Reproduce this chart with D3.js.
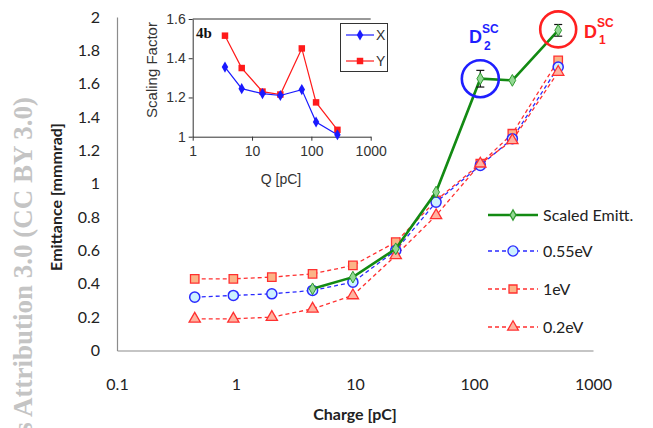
<!DOCTYPE html>
<html>
<head>
<meta charset="utf-8">
<script src="https://cdn.jsdelivr.net/npm/d3@7"></script>
<style>
  body { margin: 0; background: #fff; }
  svg { display: block; }
</style>
</head>
<body>
<div id="chart"></div>
<script>
// ---- main chart data ----
var charge    = [0.45, 0.95, 2, 4.4, 9.6, 22, 48, 113, 210, 510];
var emit055   = [0.32, 0.33, 0.34, 0.36, 0.41, 0.60, 0.89, 1.11, 1.27, 1.70];
var emit1     = [0.43, 0.43, 0.44, 0.46, 0.51, 0.65, 0.90, 1.12, 1.30, 1.74];
var emit02    = [0.19, 0.19, 0.20, 0.25, 0.33, 0.57, 0.81, 1.12, 1.26, 1.67];
var scaled    = [null, null, null, 0.37, 0.44, 0.61, 0.95, 1.63, 1.62, 1.92];
var scaledErr = [0, 0, 0, 0, 0, 0, 0, 0.05, 0, 0.035];
var xTicks = [0.1, 1, 10, 100, 1000];
var yTicks = [0, 0.2, 0.4, 0.6, 0.8, 1, 1.2, 1.4, 1.6, 1.8, 2];
var legendNames = ["Scaled Emitt.", "0.55eV", "1eV", "0.2eV"];

// ---- inset data (4b) ----
var insetQ  = [3.5, 6.7, 15, 30, 69, 120, 275];
var insetX  = [1.355, 1.245, 1.22, 1.21, 1.24, 1.075, 1.01];
var insetY  = [1.515, 1.35, 1.23, 1.215, 1.45, 1.175, 1.035];
var insetXTicks = [1, 10, 100, 1000];
var insetYTicks = [1, 1.2, 1.4, 1.6];

var W = 653, H = 428;
var svg = d3.select("#chart").append("svg")
  .attr("width", W)
  .attr("height", H);

svg.append("rect").attr("width", W).attr("height", H).attr("fill", "#fff");

var mainFont = "Lato, 'Open Sans', sans-serif";

// watermark
svg.append("text")
  .attr("transform", "translate(32,97) rotate(-90)")
  .attr("text-anchor", "end")
  .attr("font-family", "'Liberation Serif', 'DejaVu Serif', serif")
  .attr("font-weight", "bold")
  .attr("font-size", "27px")
  .attr("fill", "#c4c4c4")
  .text("s Attribution 3.0 (CC BY 3.0)");

// scales
var x = d3.scaleLog().domain([0.1, 1000]).range([117, 593]);
var y = d3.scaleLinear().domain([0, 2]).range([350.5, 17]);

var xAxis = svg.append("g")
  .attr("transform", "translate(0,350.5)")
  .call(d3.axisBottom(x).tickValues(xTicks).tickSize(0).tickSizeOuter(0).tickPadding(28)
    .tickFormat(function(d) { return String(d); }));
var yAxis = svg.append("g")
  .attr("transform", "translate(117,0)")
  .call(d3.axisLeft(y).tickValues(yTicks).tickSize(0).tickSizeOuter(0).tickPadding(17)
    .tickFormat(function(d) { return String(d); }));

[xAxis, yAxis].forEach(function(g) {
  g.select(".domain").attr("stroke", "#8c8c8c").attr("stroke-width", 1.2);
  g.selectAll("text")
    .attr("font-family", mainFont)
    .attr("font-size", "16px")
    .attr("fill", "#222");
});

// axis titles
svg.append("text")
  .attr("x", 355).attr("y", 420)
  .attr("text-anchor", "middle")
  .attr("font-family", mainFont)
  .attr("font-weight", "bold")
  .attr("font-size", "16px")
  .attr("fill", "#222")
  .text("Charge [pC]");

svg.append("text")
  .attr("transform", "translate(62,197) rotate(-90)")
  .attr("text-anchor", "middle")
  .attr("font-family", mainFont)
  .attr("font-weight", "bold")
  .attr("font-size", "16px")
  .attr("fill", "#222")
  .text("Emittance  [mmmrad]");

// series styles
var series = [
  { values: emit1,   stroke: "#ff3030", dash: "4,3", sym: d3.symbolSquare,   size: 72, fill: "#fbb487", sw: 1.3 },
  { values: emit055, stroke: "#2a2aff", dash: "4,3", sym: d3.symbolCircle,   size: 80, fill: "#cdf1ff", sw: 1.5 },
  { values: emit02,  stroke: "#ff3030", dash: "4,3", sym: d3.symbolTriangle, size: 55, fill: "#ffb3a0", sw: 1.3 }
];

var line = d3.line()
  .defined(function(d) { return d[1] != null; })
  .x(function(d) { return x(d[0]); })
  .y(function(d) { return y(d[1]); });

series.forEach(function(s) {
  var pts = charge.map(function(c, i) { return [c, s.values[i]]; });
  svg.append("path")
    .attr("d", line(pts))
    .attr("fill", "none")
    .attr("stroke", s.stroke)
    .attr("stroke-width", 1.3)
    .attr("stroke-dasharray", s.dash);
});
series.forEach(function(s) {
  var pts = charge.map(function(c, i) { return [c, s.values[i]]; });
  svg.append("g").selectAll("path")
    .data(pts)
    .enter()
    .append("path")
    .attr("transform", function(d) { return "translate(" + x(d[0]) + "," + y(d[1]) + ")"; })
    .attr("d", d3.symbol().type(s.sym).size(s.size))
    .attr("fill", s.fill)
    .attr("stroke", s.stroke)
    .attr("stroke-width", s.sw);
});

// scaled emittance (green)
var green = "#138a13";
var scaledPts = charge.map(function(c, i) { return [c, scaled[i], scaledErr[i]]; })
  .filter(function(d) { return d[1] != null; });

svg.append("path")
  .attr("d", line(scaledPts))
  .attr("fill", "none")
  .attr("stroke", green)
  .attr("stroke-width", 2.6);

// error bars
var errPts = scaledPts.filter(function(d) { return d[2] > 0; });
var eb = svg.append("g").attr("stroke", "#111").attr("stroke-width", 1.2);
errPts.forEach(function(d) {
  var cx = x(d[0]);
  eb.append("line").attr("x1", cx).attr("x2", cx).attr("y1", y(d[1] - d[2])).attr("y2", y(d[1] + d[2]));
  eb.append("line").attr("x1", cx - 4).attr("x2", cx + 4).attr("y1", y(d[1] - d[2])).attr("y2", y(d[1] - d[2]));
  eb.append("line").attr("x1", cx - 4).attr("x2", cx + 4).attr("y1", y(d[1] + d[2])).attr("y2", y(d[1] + d[2]));
});

svg.append("g").selectAll("path")
  .data(scaledPts)
  .enter()
  .append("path")
  .attr("transform", function(d) { return "translate(" + x(d[0]) + "," + y(d[1]) + ")"; })
  .attr("d", d3.symbol().type(d3.symbolDiamond).size(40))
  .attr("fill", "#93d893")
  .attr("stroke", "#2f9a2f")
  .attr("stroke-width", 1);

// annotations D2SC and D1SC
svg.append("circle")
  .attr("cx", x(charge[7])).attr("cy", y(scaled[7]))
  .attr("r", 18.5)
  .attr("fill", "none").attr("stroke", "#1f1fff").attr("stroke-width", 2.6);
svg.append("circle")
  .attr("cx", x(charge[9])).attr("cy", y(scaled[9]) - 1)
  .attr("r", 18)
  .attr("fill", "none").attr("stroke", "#ff2020").attr("stroke-width", 2.6);

function dLabel(px, py, supY, subY, sub, color) {
  var g = svg.append("g")
    .attr("font-family", "'Liberation Sans', Arial, sans-serif")
    .attr("font-weight", "bold")
    .attr("fill", color);
  g.append("text").attr("x", px).attr("y", py).attr("font-size", "18px").text("D");
  g.append("text").attr("x", px + 13).attr("y", supY).attr("font-size", "12px").text("SC");
  g.append("text").attr("x", px + 15).attr("y", subY).attr("font-size", "12px").text(sub);
}
dLabel(469, 43, 33, 50, "2", "#1f1fff");
dLabel(584, 38, 27, 44, "1", "#ff2020");

// main legend
var legend = svg.append("g").attr("transform", "translate(488,0)");
var legRows = [
  { y: 215, stroke: green, dash: null, sw: 2.6, sym: d3.symbolDiamond, size: 30, fill: "#93d893", ms: "#2f9a2f" },
  { y: 251, stroke: "#2a2aff", dash: "4,3", sw: 1.3, sym: d3.symbolCircle, size: 80, fill: "#cdf1ff", ms: "#2a2aff" },
  { y: 289, stroke: "#ff3030", dash: "4,3", sw: 1.3, sym: d3.symbolSquare, size: 64, fill: "#fbb487", ms: "#ff3030" },
  { y: 327, stroke: "#ff3030", dash: "4,3", sw: 1.3, sym: d3.symbolTriangle, size: 50, fill: "#ffb3a0", ms: "#ff3030" }
];
legRows.forEach(function(r, i) {
  legend.append("line")
    .attr("x1", 0).attr("x2", 50).attr("y1", r.y).attr("y2", r.y)
    .attr("stroke", r.stroke).attr("stroke-width", r.sw)
    .attr("stroke-dasharray", r.dash);
  legend.append("path")
    .attr("transform", "translate(25," + r.y + ")")
    .attr("d", d3.symbol().type(r.sym).size(r.size))
    .attr("fill", r.fill).attr("stroke", r.ms).attr("stroke-width", 1.3);
  legend.append("text")
    .attr("x", 55).attr("y", r.y)
    .attr("dy", "0.35em")
    .attr("font-family", mainFont)
    .attr("font-size", "16px")
    .attr("fill", "#222")
    .text(legendNames[i]);
});

// ---- inset 4b ----
var ix = d3.scaleLog().domain([1, 1000]).range([192.7, 370.7]);
var iy = d3.scaleLinear().domain([1, 1.6]).range([136.7, 19]);
var insetFont = "'Liberation Sans', Arial, sans-serif";

var ixAxis = svg.append("g")
  .attr("transform", "translate(0,136.7)")
  .call(d3.axisBottom(ix).tickValues(insetXTicks).tickSize(4).tickSizeOuter(0).tickPadding(5)
    .tickFormat(function(d) { return String(d); }));
var iyAxis = svg.append("g")
  .attr("transform", "translate(192.7,0)")
  .call(d3.axisLeft(iy).tickValues(insetYTicks).tickSize(4).tickSizeOuter(0).tickPadding(3)
    .tickFormat(function(d) { return String(d); }));
[ixAxis, iyAxis].forEach(function(g) {
  g.select(".domain").attr("stroke", "#333");
  g.selectAll("line").attr("stroke", "#333");
  g.selectAll("text")
    .attr("font-family", insetFont)
    .attr("font-size", "14px")
    .attr("fill", "#333");
});
svg.append("line")
  .attr("x1", 192.7).attr("x2", 370.7).attr("y1", 19).attr("y2", 19)
  .attr("stroke", "#333");

svg.append("text")
  .attr("x", 281).attr("y", 184)
  .attr("text-anchor", "middle")
  .attr("font-family", insetFont)
  .attr("font-size", "14px")
  .attr("fill", "#333")
  .text("Q [pC]");
svg.append("text")
  .attr("transform", "translate(157,70) rotate(-90)")
  .attr("text-anchor", "middle")
  .attr("font-family", insetFont)
  .attr("font-size", "15px")
  .attr("fill", "#333")
  .text("Scaling Factor");
svg.append("text")
  .attr("x", 196).attr("y", 38)
  .attr("font-family", "'Liberation Serif', serif")
  .attr("font-weight", "bold")
  .attr("font-size", "15px")
  .attr("fill", "#111")
  .text("4b");

var iline = d3.line()
  .x(function(d) { return ix(d[0]); })
  .y(function(d) { return iy(d[1]); });

var insetSeries = [
  { values: insetY, color: "#ff1a1a", sym: d3.symbolSquare, size: 42 },
  { values: insetX, color: "#1a1aff", sym: d3.symbolDiamond, size: 36 }
];
insetSeries.forEach(function(s) {
  var pts = insetQ.map(function(q, i) { return [q, s.values[i]]; });
  svg.append("path")
    .attr("d", iline(pts))
    .attr("fill", "none")
    .attr("stroke", s.color)
    .attr("stroke-width", 1.2);
  svg.append("g").selectAll("path")
    .data(pts)
    .enter()
    .append("path")
    .attr("transform", function(d) { return "translate(" + ix(d[0]) + "," + iy(d[1]) + ")"; })
    .attr("d", d3.symbol().type(s.sym).size(s.size))
    .attr("fill", s.color);
});

// inset legend
var ileg = svg.append("g");
ileg.append("rect")
  .attr("x", 340.5).attr("y", 23.5).attr("width", 47).attr("height", 48)
  .attr("fill", "#fff").attr("stroke", "#333");
[{ name: "X", color: "#1a1aff", sym: d3.symbolDiamond, size: 36, y: 35 },
 { name: "Y", color: "#ff1a1a", sym: d3.symbolSquare, size: 42, y: 61 }].forEach(function(r) {
  ileg.append("line")
    .attr("x1", 346).attr("x2", 374).attr("y1", r.y).attr("y2", r.y)
    .attr("stroke", r.color).attr("stroke-width", 1.2);
  ileg.append("path")
    .attr("transform", "translate(360," + r.y + ")")
    .attr("d", d3.symbol().type(r.sym).size(r.size))
    .attr("fill", r.color);
  ileg.append("text")
    .attr("x", 376).attr("y", r.y).attr("dy", "0.35em")
    .attr("font-family", insetFont)
    .attr("font-size", "14px")
    .attr("fill", "#333")
    .text(r.name);
});
</script>
</body>
</html>
